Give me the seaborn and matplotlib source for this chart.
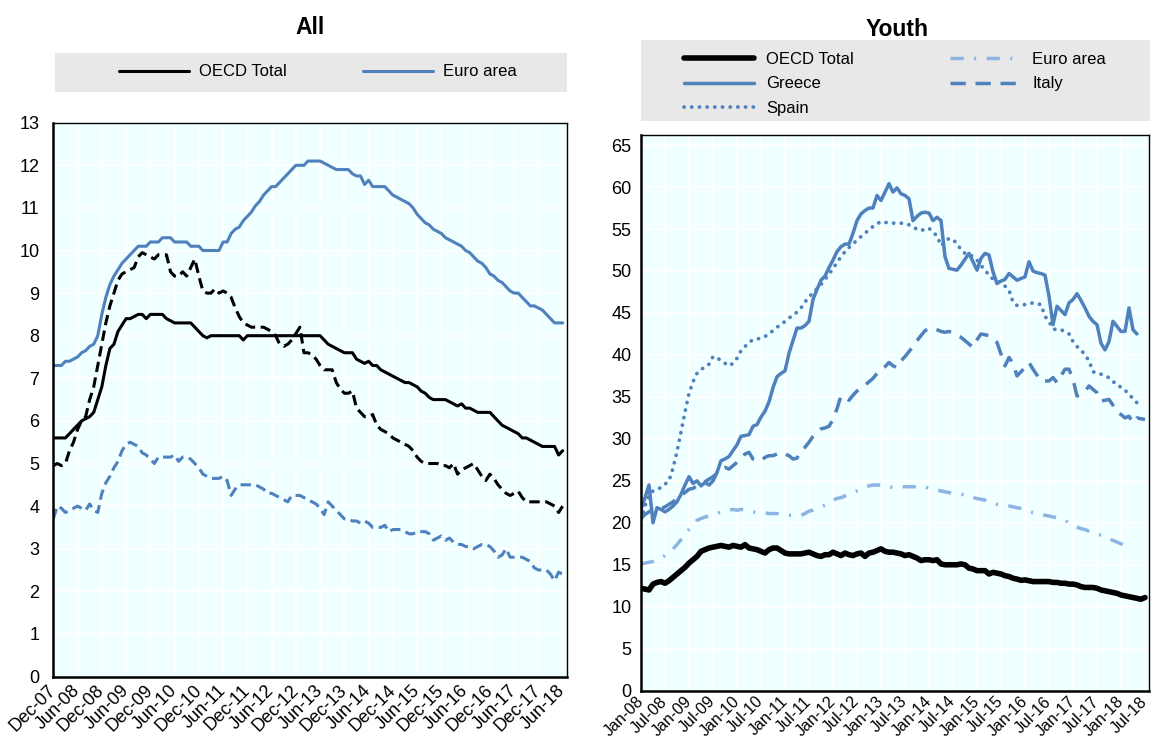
import numpy as np
import pandas as pd
import matplotlib
matplotlib.use("Agg")
import matplotlib.pyplot as plt
import seaborn as sns
from matplotlib.patches import Rectangle
from matplotlib.lines import Line2D

sns.set_style("white")
plt.rcParams['font.family'] = ['Liberation Sans', 'DejaVu Sans']
plt.rcParams['text.color'] = 'black'
plt.rcParams['xtick.color'] = 'black'
plt.rcParams['ytick.color'] = 'black'
plt.rcParams['xtick.labelcolor'] = 'black'
plt.rcParams['ytick.labelcolor'] = 'black'

# ---------------- data: All (monthly, Dec-07 .. Jun-18) ----------------
all_ticklabels = ["Dec-07", "Jun-08", "Dec-08", "Jun-09", "Dec-09", "Jun-10", "Dec-10", "Jun-11",
                  "Dec-11", "Jun-12", "Dec-12", "Jun-13", "Dec-13", "Jun-14", "Dec-14", "Jun-15",
                  "Dec-15", "Jun-16", "Dec-16", "Jun-17", "Dec-17", "Jun-18"]

all_oecd = [5.6, 5.6, 5.6, 5.6, 5.7, 5.8, 5.9, 6.0, 6.05, 6.1,
            6.2, 6.5, 6.8, 7.3, 7.7, 7.8, 8.1, 8.25, 8.4, 8.4,
            8.45, 8.5, 8.5, 8.4, 8.5, 8.5, 8.5, 8.5, 8.4, 8.35,
            8.3, 8.3, 8.3, 8.3, 8.3, 8.2, 8.1, 8.0, 7.95, 8.0,
            8.0, 8.0, 8.0, 8.0, 8.0, 8.0, 8.0, 7.9, 8.0, 8.0,
            8.0, 8.0, 8.0, 8.0, 8.0, 8.0, 8.0, 8.0, 8.0, 8.0,
            8.0, 8.0, 8.0, 8.0, 8.0, 8.0, 8.0, 7.9, 7.8, 7.75,
            7.7, 7.65, 7.6, 7.6, 7.6, 7.45, 7.4, 7.35, 7.4, 7.3,
            7.3, 7.2, 7.15, 7.1, 7.05, 7.0, 6.95, 6.9, 6.9, 6.85,
            6.8, 6.7, 6.65, 6.55, 6.5, 6.5, 6.5, 6.5, 6.45, 6.4,
            6.35, 6.4, 6.3, 6.3, 6.25, 6.2, 6.2, 6.2, 6.2, 6.1,
            6.0, 5.9, 5.85, 5.8, 5.75, 5.7, 5.6, 5.6, 5.55, 5.5,
            5.45, 5.4, 5.4, 5.4, 5.4, 5.2, 5.3]

all_euro = [7.3, 7.3, 7.3, 7.4, 7.4, 7.45, 7.5, 7.6, 7.65, 7.75,
            7.8, 8.0, 8.5, 8.9, 9.2, 9.4, 9.55, 9.7, 9.8, 9.9,
            10.0, 10.1, 10.1, 10.1, 10.2, 10.2, 10.2, 10.3, 10.3, 10.3,
            10.2, 10.2, 10.2, 10.2, 10.1, 10.1, 10.1, 10.0, 10.0, 10.0,
            10.0, 10.0, 10.2, 10.2, 10.4, 10.5, 10.55, 10.7, 10.8, 10.9,
            11.05, 11.15, 11.3, 11.4, 11.5, 11.5, 11.6, 11.7, 11.8, 11.9,
            12.0, 12.0, 12.0, 12.1, 12.1, 12.1, 12.1, 12.05, 12.0, 11.95,
            11.9, 11.9, 11.9, 11.9, 11.8, 11.75, 11.75, 11.55, 11.65, 11.5,
            11.5, 11.5, 11.5, 11.4, 11.3, 11.25, 11.2, 11.15, 11.1, 11.0,
            10.85, 10.75, 10.65, 10.6, 10.5, 10.45, 10.4, 10.3, 10.25, 10.2,
            10.15, 10.1, 10.0, 9.95, 9.85, 9.75, 9.7, 9.6, 9.45, 9.4,
            9.3, 9.25, 9.15, 9.05, 9.0, 9.0, 8.9, 8.8, 8.7, 8.7,
            8.65, 8.6, 8.5, 8.4, 8.3, 8.3, 8.3]

all_black_dashed = [4.95, 5.0, 4.95, 5.0, 5.3, 5.5, 5.8, 6.0, 6.1, 6.5,
                    6.8, 7.3, 7.8, 8.3, 8.7, 9.0, 9.3, 9.45, 9.5, 9.55,
                    9.6, 9.85, 9.95, 9.9, 9.85, 9.8, 9.9, 9.9, 9.9, 9.5,
                    9.4, 9.4, 9.5, 9.4, 9.6, 9.8, 9.4, 9.05, 9.0, 9.0,
                    9.1, 9.0, 9.05, 9.0, 8.9, 8.65, 8.45, 8.3, 8.25, 8.2,
                    8.2, 8.2, 8.2, 8.15, 8.1, 8.0, 7.8, 7.75, 7.8, 7.9,
                    8.05, 8.2, 7.6, 7.6, 7.55, 7.45, 7.3, 7.2, 7.2, 7.2,
                    6.9, 6.75, 6.65, 6.65, 6.7, 6.3, 6.2, 6.1, 6.1, 6.15,
                    5.9, 5.8, 5.75, 5.7, 5.6, 5.55, 5.5, 5.45, 5.4, 5.3,
                    5.15, 5.05, 5.0, 5.0, 5.0, 5.0, 4.95, 4.95, 4.9, 5.0,
                    4.75, 4.85, 4.9, 4.95, 5.0, 4.85, 4.7, 4.6, 4.75, 4.65,
                    4.5, 4.4, 4.3, 4.25, 4.3, 4.35, 4.2, 4.1, 4.1, 4.1,
                    4.1, 4.1, 4.1, 4.05, 4.0, 3.85, 4.0]

all_blue_dashed = [3.7, 4.0, 3.95, 3.85, 3.9, 3.95, 4.0, 3.95, 3.9, 4.05,
                   3.9, 3.85, 4.3, 4.55, 4.7, 4.9, 5.05, 5.3, 5.45, 5.5,
                   5.45, 5.4, 5.25, 5.2, 5.1, 5.0, 5.15, 5.15, 5.15, 5.15,
                   5.2, 5.05, 5.15, 5.15, 5.1, 5.0, 4.9, 4.75, 4.7, 4.65,
                   4.65, 4.65, 4.7, 4.6, 4.25, 4.4, 4.5, 4.5, 4.5, 4.5,
                   4.5, 4.45, 4.4, 4.3, 4.3, 4.25, 4.2, 4.15, 4.1, 4.25,
                   4.25, 4.25, 4.2, 4.15, 4.1, 4.05, 3.95, 3.8, 4.1, 4.0,
                   3.9, 3.8, 3.7, 3.7, 3.65, 3.65, 3.6, 3.65, 3.6, 3.5,
                   3.5, 3.5, 3.55, 3.4, 3.45, 3.45, 3.45, 3.4, 3.35, 3.35,
                   3.4, 3.4, 3.4, 3.35, 3.2, 3.25, 3.3, 3.2, 3.25, 3.15,
                   3.1, 3.1, 3.05, 3.05, 3.0, 3.05, 3.1, 3.1, 3.05, 2.95,
                   2.8, 2.85, 3.0, 2.8, 2.8, 2.8, 2.8, 2.75, 2.7, 2.55,
                   2.5, 2.5, 2.5, 2.4, 2.25, 2.45, 2.4]

# ---------------- data: Youth (monthly, Jan-08 .. Jul-18) ----------------
youth_ticklabels = ["Jan-08", "Jul-08", "Jan-09", "Jul-09", "Jan-10", "Jul-10", "Jan-11", "Jul-11",
                    "Jan-12", "Jul-12", "Jan-13", "Jul-13", "Jan-14", "Jul-14", "Jan-15", "Jul-15",
                    "Jan-16", "Jul-16", "Jan-17", "Jul-17", "Jan-18", "Jul-18"]

youth_oecd = [12.2, 12.1, 12.0, 12.7, 12.9, 13.0, 12.8, 13.1, 13.5, 13.9,
              14.3, 14.7, 15.2, 15.6, 16.0, 16.6, 16.8, 17.0, 17.1, 17.2,
              17.3, 17.2, 17.1, 17.3, 17.2, 17.1, 17.4, 17.0, 16.9, 16.8,
              16.6, 16.4, 16.8, 17.0, 17.0, 16.7, 16.4, 16.3, 16.3, 16.3,
              16.3, 16.4, 16.5, 16.3, 16.1, 16.0, 16.2, 16.2, 16.5, 16.3,
              16.1, 16.4, 16.2, 16.1, 16.3, 16.4, 16.0, 16.4, 16.5, 16.7,
              16.9, 16.6, 16.5, 16.5, 16.4, 16.3, 16.1, 16.2, 16.0, 15.8,
              15.5, 15.6, 15.6, 15.5, 15.6, 15.1, 15.0, 15.0, 15.0, 15.0,
              15.1, 15.0, 14.6, 14.5, 14.3, 14.3, 14.3, 13.9, 14.1, 14.0,
              13.9, 13.7, 13.6, 13.4, 13.3, 13.15, 13.2, 13.1, 13.0, 13.0,
              13.0, 13.0, 13.0, 12.9, 12.9, 12.8, 12.8, 12.7, 12.7, 12.6,
              12.4, 12.3, 12.3, 12.3, 12.2, 12.0, 11.9, 11.8, 11.7, 11.6,
              11.4, 11.3, 11.2, 11.1, 11.0, 10.9, 11.1]

youth_euro = [15.1, 15.2, 15.3, 15.4, 15.6, 15.8, 16.1, 16.5, 16.9, 17.4,
              18.0, 18.5, 19.2, 19.7, 20.3, 20.5, 20.7, 20.8, 21.0, 21.1,
              21.3, 21.4, 21.5, 21.6, 21.5, 21.6, 21.5, 21.4, 21.3, 21.2,
              21.2, 21.2, 21.1, 21.1, 21.1, 21.0, 21.0, 20.9, 20.9, 20.8,
              20.9, 21.1, 21.4, 21.5, 21.7, 21.9, 22.1, 22.4, 22.7, 22.9,
              23.0, 23.2, 23.4, 23.6, 23.8, 24.0, 24.2, 24.4, 24.5, 24.5,
              24.5, 24.5, 24.3, 24.2, 24.3, 24.3, 24.3, 24.3, 24.3, 24.3,
              24.3, 24.3, 24.1, 24.0, 23.9, 23.8, 23.7, 23.6, 23.5, 23.5,
              23.4, 23.3, 23.1, 23.0, 22.9, 22.8, 22.7, 22.5, 22.4, 22.2,
              22.1, 22.0, 22.0, 21.9, 21.8, 21.7, 21.5, 21.4, 21.2, 21.1,
              21.0, 20.9, 20.8, 20.7, 20.6, 20.5, 20.3, 20.0, 19.8, 19.5,
              19.3, 19.2, 19.0, 18.9, 18.7, 18.5, 18.3, 18.1, 17.9, 17.7,
              17.5, 17.3, 17.2]

youth_greece = [21.6, 23.0, 24.5, 20.0, 21.8, 21.6, 21.3, 21.6, 22.0, 22.5,
                23.4, 24.5, 25.5, 24.7, 25.0, 24.4, 24.8, 24.5, 25.0, 26.0,
                27.4, 27.6, 27.9, 28.6, 29.3, 30.3, 30.4, 30.5, 31.5, 31.7,
                32.6, 33.3, 34.4, 36.1, 37.4, 37.8, 38.1, 40.2, 41.7, 43.2,
                43.2, 43.5, 44.0, 46.6, 47.8, 48.9, 49.4, 50.4, 51.3, 52.3,
                52.9, 53.2, 53.2, 54.5, 56.0, 56.8, 57.2, 57.5, 57.5, 59.0,
                58.4, 59.4, 60.4, 59.4, 59.9, 59.2, 59.0, 58.6, 56.0, 56.5,
                56.9, 57.0, 56.9, 56.0, 56.4, 56.0, 51.7, 50.3, 50.2, 50.1,
                50.7, 51.4, 52.1, 51.1, 50.1, 51.5, 52.1, 51.9, 49.9, 48.5,
                48.8, 49.0, 49.7, 49.3, 48.9, 49.1, 49.3, 51.1, 50.0, 49.8,
                49.7, 49.5, 47.0, 43.6, 45.8, 45.3, 44.8, 46.2, 46.6, 47.3,
                46.5, 45.6, 44.6, 44.0, 43.6, 41.4, 40.6, 41.6, 44.0, 43.4,
                42.8, 42.8, 45.6, 43.0, 42.5]

youth_italy = [20.5, 21.0, 21.3, 21.6, 21.5, 21.7, 21.9, 22.2, 22.5, 22.9,
               23.3, 23.6, 24.0, 24.1, 24.4, 24.6, 24.9, 25.2, 25.5, 25.9,
               26.4, 26.6, 26.4, 26.8, 27.2, 27.6, 28.2, 28.4, 27.6, 27.4,
               27.4, 27.8, 28.0, 28.0, 28.2, 28.4, 28.2, 28.0, 27.6, 27.7,
               28.6, 29.0, 29.6, 30.3, 30.8, 31.2, 31.3, 31.5, 32.3, 33.6,
               35.1, 35.0, 34.6, 35.2, 35.7, 36.0, 36.4, 36.8, 37.2, 37.8,
               38.3, 38.6, 39.1, 38.7, 38.5, 39.3, 39.8, 40.4, 41.0, 41.7,
               42.3, 42.9, 43.1, 43.2, 43.0, 42.8, 42.7, 42.8, 42.6, 42.3,
               42.1, 41.7, 41.3, 40.9, 41.8, 42.5, 42.4, 42.3, 41.9, 41.5,
               40.1, 38.7, 39.7, 39.0, 37.5, 38.0, 38.5, 39.1, 38.3, 37.6,
               36.9, 36.9, 36.9, 37.3, 36.7, 37.5, 38.3, 38.3, 37.1, 35.1,
               35.4, 35.7, 36.3, 35.9, 35.5, 34.5, 34.6, 34.7, 34.0, 33.2,
               32.9, 32.5, 32.7, 31.9, 32.5, 32.4, 32.3]

youth_spain = [20.4, 22.0, 23.2, 23.8, 24.0, 24.2, 24.6, 25.0, 26.5, 28.5,
               30.8, 33.2, 35.4, 36.8, 37.8, 38.3, 38.5, 38.9, 39.8, 39.7,
               39.3, 39.0, 38.7, 39.0, 39.6, 40.5, 41.0, 41.5, 41.8, 41.9,
               42.0, 42.2, 42.5, 42.9, 43.3, 43.6, 44.0, 44.4, 44.7, 45.1,
               45.6, 46.3, 46.9, 47.4, 47.9, 48.4, 49.0, 49.6, 50.3, 51.0,
               51.7, 52.3, 52.8, 53.2, 53.7, 54.1, 54.5, 54.9, 55.3, 55.6,
               55.9, 55.8, 55.7, 55.7, 55.7, 55.7, 55.6, 55.5, 55.2, 55.0,
               54.8, 55.0, 55.1, 54.6, 54.2, 53.0, 53.4, 53.9, 53.7, 53.3,
               52.5, 52.1, 52.0, 51.7, 51.3, 50.7, 50.0, 49.6, 49.0, 48.8,
               48.5, 48.2, 47.7, 46.3, 45.9, 45.9, 46.0, 46.1, 46.2, 46.1,
               46.0, 44.6, 44.0, 43.1, 43.0, 43.0, 42.8, 42.5, 41.6, 41.0,
               40.6, 40.0, 39.3, 38.0, 37.8, 37.7, 37.5, 37.3, 36.8, 36.6,
               36.1, 35.8, 35.3, 34.8, 34.3, 33.9]

# ---------------- styling ----------------
BLUE = "#4F81BD"
LIGHT = "#8DB4E2"
BG = "#F0FFFF"
W, H = 1155, 742

fig = plt.figure(figsize=(W / 100, H / 100), dpi=100)
axL = fig.add_axes([53.3 / W, 1 - 676.5 / H, (566.7 - 53.3) / W, (676.5 - 122.7) / H])
axR = fig.add_axes([641 / W, 1 - 690.7 / H, (1149 - 641) / W, (690.7 - 135) / H])


def draw(ax, values, color, lw, dashes=None, cap="butt"):
    df = pd.DataFrame({"m": np.arange(len(values)), "v": values})
    sns.lineplot(data=df, x="m", y="v", ax=ax, color=color, linewidth=lw,
                 estimator=None, sort=False)
    line = ax.lines[-1]
    if dashes is not None:
        line.set_dashes(dashes)
    line.set_dash_capstyle(cap)
    line.set_solid_joinstyle("round")
    return line


LW_ALL = 2.2
# All panel
draw(axL, all_euro, BLUE, LW_ALL)
draw(axL, all_oecd, "black", LW_ALL)
draw(axL, all_black_dashed, "black", LW_ALL, dashes=(3.4, 1.8))
draw(axL, all_blue_dashed, BLUE, LW_ALL, dashes=(3.4, 1.8))

# Youth panel
draw(axR, youth_spain, BLUE, 2.7, dashes=(0.05, 2.0), cap="round")
draw(axR, youth_italy, BLUE, 2.5, dashes=(4.4, 2.8))
draw(axR, youth_greece, BLUE, 2.5)
draw(axR, youth_euro, LIGHT, 2.5, dashes=(3.8, 3.0, 0.6, 3.0))
draw(axR, youth_oecd, "black", 4.0)


def style(ax, ylim, yticks, labels, ypad, xfs, xpad):
    ax.set_facecolor(BG)
    ax.set_xlim(0, 127)
    ax.set_ylim(*ylim)
    ax.set_xticks(np.arange(0, 127, 6))
    ax.set_xticklabels(labels, rotation=45, ha="right", va="center",
                       rotation_mode="anchor", fontsize=xfs)
    ax.set_yticks(yticks)
    ax.set_yticklabels([str(t) for t in yticks], fontsize=13)
    ax.set_xlabel("")
    ax.set_ylabel("")
    ax.grid(True, color="white", linewidth=1.4)
    ax.set_axisbelow(True)
    ax.tick_params(axis="both", direction="in", length=5, width=1.3, color="black",
                   labelcolor="black")
    ax.tick_params(axis="y", pad=ypad)
    ax.tick_params(axis="x", pad=xpad)
    for s in ["left", "bottom"]:
        ax.spines[s].set_linewidth(1.8)
        ax.spines[s].set_color("black")
    for s in ["top", "right"]:
        ax.spines[s].set_linewidth(1.0)
        ax.spines[s].set_color("black")


style(axL, (0, 13), list(range(0, 14)), all_ticklabels, 10, 13, 8)
style(axR, (0, 66.2), list(range(0, 66, 5)), youth_ticklabels, 7, 11.6, 6)

# Titles
fig.text(310 / W, 1 - 28 / H, "All", ha="center", va="center", fontsize=16.5,
         fontweight="bold", color="black")
fig.text(897 / W, 1 - 30 / H, "Youth", ha="center", va="center", fontsize=16.5,
         fontweight="bold", color="black")

# Legend boxes
fig.add_artist(Rectangle((55 / W, 1 - 92 / H), (567 - 55) / W, 39 / H, transform=fig.transFigure,
                         facecolor="#E8E8E8", edgecolor="none", zorder=0))
fig.add_artist(Rectangle((641 / W, 1 - 121 / H), (1150 - 641) / W, 81 / H, transform=fig.transFigure,
                         facecolor="#E8E8E8", edgecolor="none", zorder=0))

hL = [Line2D([], [], color="black", lw=LW_ALL), Line2D([], [], color=BLUE, lw=LW_ALL)]
legL = fig.legend(hL, ["OECD Total", "Euro area"], loc="center", bbox_to_anchor=(318 / W, 1 - 72 / H),
                  ncol=2, frameon=False, fontsize=12, handlelength=4.2, handletextpad=0.6,
                  columnspacing=4.6, borderpad=0, borderaxespad=0)

h_oecd = Line2D([], [], color="black", lw=4.0, solid_capstyle="round")
h_greece = Line2D([], [], color=BLUE, lw=2.5)
h_spain = Line2D([], [], color=BLUE, lw=2.7, dashes=(0.05, 2.0), dash_capstyle="round")
h_euro = Line2D([], [], color=LIGHT, lw=2.5, dashes=(3.8, 3.0, 0.6, 3.0))
h_italy = Line2D([], [], color=BLUE, lw=2.5, dashes=(4.4, 2.8))
legR = fig.legend([h_oecd, h_greece, h_spain, h_euro, h_italy],
                  ["OECD Total", "Greece", "Spain", "Euro area", "Italy"],
                  loc="center", bbox_to_anchor=(895 / W, 1 - 84 / H), ncol=2, frameon=False,
                  fontsize=12, handlelength=4.2, handletextpad=0.7, columnspacing=5.8,
                  labelspacing=0.55, borderpad=0, borderaxespad=0)
for leg in (legL, legR):
    for t in leg.get_texts():
        t.set_color("black")

fig.savefig("out.png", dpi=100)
